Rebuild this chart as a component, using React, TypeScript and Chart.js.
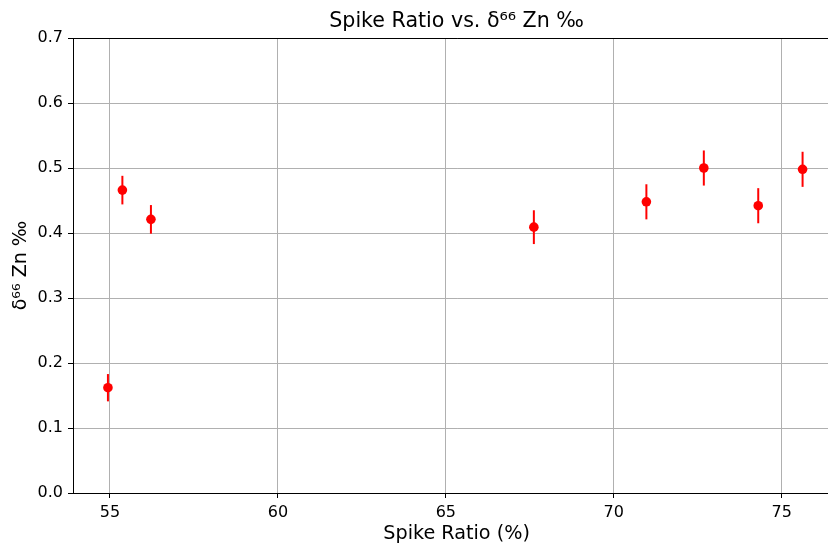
import React, { useEffect, useRef } from "react";
import { Chart, registerables } from "chart.js";

Chart.register(...registerables);

const spikeRatio = [54.94, 55.37, 56.22, 67.62, 70.97, 72.68, 74.3, 75.62];
const delta66 = [0.162, 0.466, 0.421, 0.409, 0.448, 0.5, 0.442, 0.498];
const delta66Err = [0.021, 0.022, 0.022, 0.026, 0.027, 0.027, 0.027, 0.027];

const xMin = 53.9;
const xMax = 76.74;
const yMin = 0;
const yMax = 0.7;

const titleText = "Spike Ratio vs. \u03b4\u2076\u2076 Zn \u2030";
const xLabel = "Spike Ratio (%)";
const yLabel = "\u03b4\u2076\u2076 Zn \u2030";

const FONT = "'DejaVu Sans', sans-serif";

const errorBarPlugin = {
  id: "errorBars",
  beforeDatasetsDraw(chart: any) {
    const ctx = chart.ctx;
    const xs = chart.scales.x;
    const ys = chart.scales.y;
    ctx.save();
    ctx.strokeStyle = "#ff0000";
    ctx.lineWidth = 2;
    for (let i = 0; i < spikeRatio.length; i++) {
      const px = xs.getPixelForValue(spikeRatio[i]);
      const top = ys.getPixelForValue(delta66[i] + delta66Err[i]);
      const bot = ys.getPixelForValue(delta66[i] - delta66Err[i]);
      ctx.beginPath();
      ctx.moveTo(px, top);
      ctx.lineTo(px, bot);
      ctx.stroke();
    }
    ctx.restore();
  },
};

export default function App() {
  const ref = useRef<HTMLCanvasElement>(null);
  useEffect(() => {
    if (!ref.current) return;
    const chart = new Chart(ref.current, {
      type: "scatter",
      data: {
        datasets: [
          {
            data: spikeRatio.map((x, i) => ({ x, y: delta66[i] })),
            backgroundColor: "#ff0000",
            borderColor: "#ff0000",
            borderWidth: 0,
            pointRadius: 4.8,
            pointHoverRadius: 4.8,
          },
        ],
      },
      options: {
        animation: false,
        responsive: false,
        devicePixelRatio: 1,
        layout: { padding: { left: 0, right: 1, top: 0, bottom: 0 } },
        plugins: {
          legend: { display: false },
          tooltip: { enabled: false },
          title: {
            display: true,
            text: titleText,
            fullSize: false,
            color: "#000",
            font: { family: FONT, size: 20.6, weight: "normal", lineHeight: 1.2 },
            padding: { top: 9.5, bottom: 3.8 },
          },
        },
        scales: {
          x: {
            type: "linear",
            min: xMin,
            max: xMax,
            afterFit: (s: any) => {
              s.height = 51;
            },
            ticks: {
              stepSize: 5,
              includeBounds: false,
              color: "#000",
              padding: 5,
              font: { family: FONT, size: 16 },
              callback: (v: any) => String(v),
            },
            grid: {
              color: "#b0b0b0",
              lineWidth: 1,
              tickColor: "#000",
              tickLength: 5,
            },
            border: { color: "#000", width: 1 },
            title: {
              display: true,
              text: xLabel,
              color: "#000",
              font: { family: FONT, size: 19.2, lineHeight: 1 },
              padding: { top: 0, bottom: 0 },
            },
          },
          y: {
            type: "linear",
            min: yMin,
            max: yMax,
            afterFit: (s: any) => {
              s.width = 73;
            },
            ticks: {
              stepSize: 0.1,
              includeBounds: false,
              color: "#000",
              padding: 5,
              font: { family: FONT, size: 16 },
              callback: (v: any) => Number(v).toFixed(1),
            },
            grid: {
              color: (c: any) =>
                c.tick && Math.abs(c.tick.value - yMax) < 1e-9 ? "#000" : "#b0b0b0",
              lineWidth: 1,
              tickColor: "#000",
              tickLength: 5,
            },
            border: { color: "#000", width: 1 },
            title: {
              display: true,
              text: yLabel,
              color: "#000",
              font: { family: FONT, size: 19, lineHeight: 1 },
              padding: { top: 11.5, bottom: 0 },
            },
          },
        },
      },
      plugins: [errorBarPlugin],
    });
    return () => chart.destroy();
  }, []);

  return (
    <div
      style={{
        position: "absolute",
        left: 0,
        top: 0,
        width: 828,
        height: 544,
        overflow: "hidden",
        background: "#fff",
      }}
    >
      <canvas ref={ref} width={845} height={544} style={{ width: 845, height: 544, display: "block" }} />
    </div>
  );
}
